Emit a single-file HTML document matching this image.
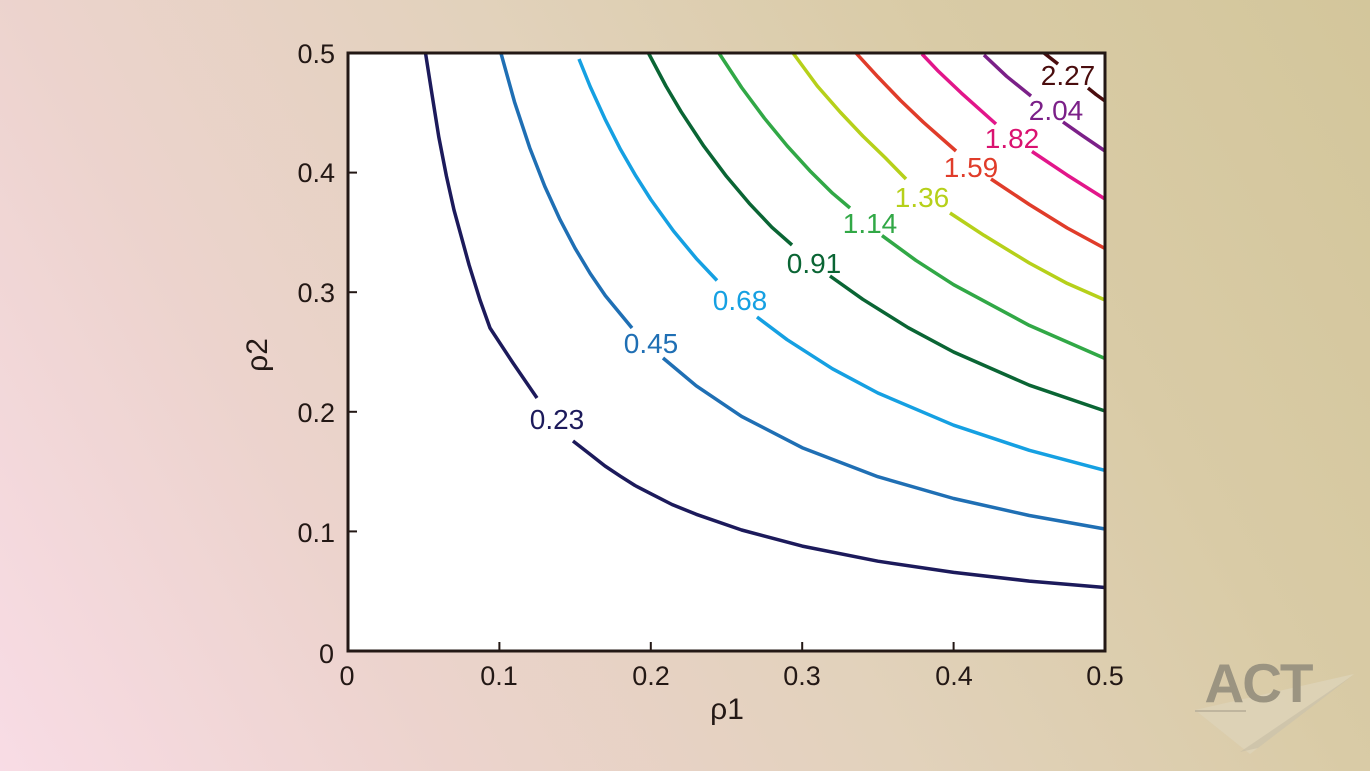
<!DOCTYPE html>
<html>
<head>
<meta charset="utf-8">
<style>
html,body{margin:0;padding:0;width:1370px;height:771px;overflow:hidden;}
svg{display:block;}
</style>
</head>
<body>
<svg width="1370" height="771" viewBox="0 0 1370 771" xmlns="http://www.w3.org/2000/svg">
<defs>
<linearGradient id="bg" gradientUnits="userSpaceOnUse" x1="0" y1="771" x2="1370" y2="0">
<stop offset="0" stop-color="#f8dce5"/>
<stop offset="0.25" stop-color="#ecd3cd"/>
<stop offset="0.5" stop-color="#e2d2bc"/>
<stop offset="0.75" stop-color="#d9cba6"/>
<stop offset="1" stop-color="#d3c69b"/>
</linearGradient>
</defs>
<rect x="0" y="0" width="1370" height="771" fill="url(#bg)"/>

<!-- logo -->
<polygon points="1195,710 1354,674 1250,754" fill="#ddd3b9" opacity="0.8"/>
<polygon points="1240,752 1352,676 1258,748" fill="#c9bfa6" opacity="0.7"/>
<line x1="1195" y1="711" x2="1246" y2="711" stroke="#bfb59e" stroke-width="2"/>
<text x="1258" y="702" text-anchor="middle" font-family="Liberation Sans, sans-serif" font-weight="bold" font-size="55" fill="#9b9481" letter-spacing="-2">ACT</text>

<!-- plot area -->
<rect x="348" y="53" width="757" height="598" fill="#ffffff"/>

<g fill="none" stroke-width="3.5" stroke-linejoin="round" stroke-linecap="butt">
<path stroke="#1c1a5b" d="M425.5,53 L431.3,90 L438.8,137 L446.4,176 L454,210 L469.1,265 L480,300 L490,328 L513,363 L537,398"/>
<path stroke="#1c1a5b" d="M573,441 L590.2,454.4 L605,466 L620.5,476.3 L635,485.5 L650.8,493.7 L672,504.5 L696.2,514.3 L741.6,530 L802.2,546.1 L877.9,561.2 L953.6,572.4 L1029.3,581.1 L1105,587.5"/>

<path stroke="#1f6fb4" d="M500.9,53 L514.5,101.9 L529.7,147.7 L544.8,186.4 L560,219.6 L575.1,248.3 L590.2,273.5 L605.4,295.7 L632,328"/>
<path stroke="#1f6fb4" d="M663,358 L696.2,385.8 L741.6,416.4 L802.2,447.7 L877.9,476.7 L953.6,498.5 L1029.3,515.5 L1105,529"/>

<path stroke="#15a0e2" d="M579,59 L590.2,86.6 L605.4,119.8 L620.5,149.4 L635.7,175.7 L650.8,199.5 L673.5,231 L696.2,258.4 L717,280.5"/>
<path stroke="#15a0e2" d="M757,317 L787.1,339.7 L832.5,368.8 L877.9,393 L953.6,425.2 L1029.3,450.3 L1105,470.4"/>

<path stroke="#0a6534" d="M648.4,53 L665.9,86 L681.1,111.7 L703.8,146.1 L726.5,176.4 L749.2,203.3 L771.9,227.3 L792,245"/>
<path stroke="#0a6534" d="M830,276 L862.8,299.3 L908.2,327.7 L953.6,352 L1029.3,385.2 L1105,411"/>

<path stroke="#31a846" d="M718.9,53 L741.6,87.5 L764.4,118.2 L787.1,145.8 L809.8,170.7 L832.5,193.2 L850,208"/>
<path stroke="#31a846" d="M882,235.6 L915.8,260.3 L953.6,284.7 L1029.3,325.4 L1105,358.5"/>

<path stroke="#b6d01a" d="M793,53 L817.3,86 L840.1,112 L862.8,136 L885.5,158 L906,179"/>
<path stroke="#b6d01a" d="M950,213 L983.9,235.3 L1029.3,263 L1067.2,283.4 L1105,300"/>

<path stroke="#e03c2a" d="M856,53 L877.9,76.9 L900.6,100.5 L923.3,122.2 L956,151"/>
<path stroke="#e03c2a" d="M991,179 L1029.3,204.5 L1067.2,228 L1105,248.5"/>

<path stroke="#e2168a" d="M922,54 L938.5,71.4 L961.2,92.9 L996,124"/>
<path stroke="#e2168a" d="M1032,151.5 L1067.2,175.1 L1105,199"/>

<path stroke="#7b2088" d="M984,55 L1006.6,76.3 L1031,96"/>
<path stroke="#7b2088" d="M1063,122 L1082.3,135.6 L1105,151"/>

<path stroke="#4a0d0e" d="M1044,53 L1051,58.5 L1058,64"/>
<path stroke="#4a0d0e" d="M1088,88 L1096,94.5 L1105,101"/>
</g>

<g font-family="Liberation Sans, Arial, sans-serif" font-size="28" text-anchor="middle">
<text x="557" y="429" fill="#1c1a5b">0.23</text>
<text x="651" y="353" fill="#1f6fb4">0.45</text>
<text x="740" y="310" fill="#15a0e2">0.68</text>
<text x="814" y="273" fill="#0a6534">0.91</text>
<text x="870" y="233" fill="#31a846">1.14</text>
<text x="922" y="207" fill="#b6d01a">1.36</text>
<text x="971" y="177" fill="#e03c2a">1.59</text>
<text x="1012" y="148" fill="#da1270">1.82</text>
<text x="1056" y="120" fill="#7b2088">2.04</text>
<text x="1068" y="85" fill="#4a0d0e">2.27</text>
</g>

<!-- ticks -->
<g stroke="#231815" stroke-width="2">
<line x1="499.4" y1="651" x2="499.4" y2="642"/>
<line x1="650.8" y1="651" x2="650.8" y2="642"/>
<line x1="802.2" y1="651" x2="802.2" y2="642"/>
<line x1="953.6" y1="651" x2="953.6" y2="642"/>
<line x1="348" y1="531.4" x2="357" y2="531.4"/>
<line x1="348" y1="411.8" x2="357" y2="411.8"/>
<line x1="348" y1="292.2" x2="357" y2="292.2"/>
<line x1="348" y1="172.6" x2="357" y2="172.6"/>
</g>
<rect x="348" y="53" width="757" height="598" fill="none" stroke="#231815" stroke-width="3"/>

<!-- tick labels -->
<g font-family="Liberation Sans, Arial, sans-serif" font-size="27" fill="#231815">
<g text-anchor="end">
<text x="334" y="663">0</text>
<text x="335" y="542">0.1</text>
<text x="335" y="422">0.2</text>
<text x="335" y="302">0.3</text>
<text x="335" y="182">0.4</text>
<text x="335" y="63">0.5</text>
</g>
<g text-anchor="middle">
<text x="347" y="685">0</text>
<text x="499" y="685">0.1</text>
<text x="651" y="685">0.2</text>
<text x="802" y="685">0.3</text>
<text x="954" y="685">0.4</text>
<text x="1105" y="685">0.5</text>
</g>
</g>
<text x="727" y="719" text-anchor="middle" font-family="Liberation Sans, Arial, sans-serif" font-size="30" fill="#231815">ρ1</text>
<text x="0" y="0" transform="translate(267,355) rotate(-90)" text-anchor="middle" font-family="Liberation Sans, Arial, sans-serif" font-size="30" fill="#231815">ρ2</text>
</svg>
</body>
</html>
